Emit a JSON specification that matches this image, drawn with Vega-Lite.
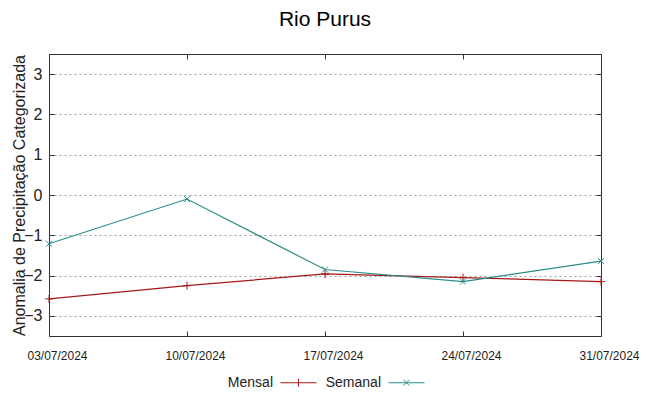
{
  "$schema": "https://vega.github.io/schema/vega-lite/v6.json",
  "width": 552,
  "height": 282,
  "autosize": {"type": "none"},
  "padding": {"left": 49, "top": 54, "right": 48, "bottom": 60},
  "background": "white",
  "config": {
    "font": "Liberation Sans",
    "view": {"stroke": "#333333", "strokeWidth": 1}
  },
  "title": {
    "text": "Rio Purus",
    "fontSize": 21,
    "fontWeight": "normal",
    "color": "#000000",
    "frame": "group",
    "anchor": "middle",
    "baseline": "alphabetic",
    "offset": 7
  },
  "data": {
    "values": [
      {"date": "03/07/2024", "series": "Mensal", "value": -2.58},
      {"date": "10/07/2024", "series": "Mensal", "value": -2.25},
      {"date": "17/07/2024", "series": "Mensal", "value": -1.96},
      {"date": "24/07/2024", "series": "Mensal", "value": -2.05},
      {"date": "31/07/2024", "series": "Mensal", "value": -2.15},
      {"date": "03/07/2024", "series": "Semanal", "value": -1.21},
      {"date": "10/07/2024", "series": "Semanal", "value": -0.1},
      {"date": "17/07/2024", "series": "Semanal", "value": -1.85},
      {"date": "24/07/2024", "series": "Semanal", "value": -2.15},
      {"date": "31/07/2024", "series": "Semanal", "value": -1.64}
    ]
  },
  "layer": [
    {
      "mark": {"type": "line", "strokeWidth": 1.2, "clip": false},
      "encoding": {
        "x": {
          "field": "date", "type": "ordinal", "sort": null,
          "scale": {"type": "point", "padding": 0},
          "axis": {
            "title": null, "labelAngle": 0, "labelFontSize": 12, "labelColor": "#222222",
            "labelPadding": 19, "labelOffset": 8, "tickSize": -5, "tickColor": "#333333", "domain": false, "grid": false
          }
        },
        "y": {
          "field": "value", "type": "quantitative",
          "scale": {"domain": [-3.5, 3.5], "nice": false, "zero": false},
          "axis": {
            "values": [-3, -2, -1, 0, 1, 2, 3],
            "title": "Anomalia de Precipitação Categorizada",
            "titleFontSize": 16, "titleFontWeight": "normal", "titleColor": "#222222", "titlePadding": -4,
            "labelFontSize": 16, "labelColor": "#222222", "labelPadding": 12,
            "tickSize": -5, "tickColor": "#333333", "domain": false,
            "grid": true, "gridColor": "#a0a0a0", "gridDash": [2, 3], "gridWidth": 1
          }
        },
        "color": {
          "field": "series", "type": "nominal",
          "scale": {"domain": ["Mensal", "Semanal"], "range": ["#a31818", "#2b8c8c"]},
          "legend": {
            "title": null,
            "orient": "none",
            "direction": "horizontal",
            "legendX": 231,
            "legendY": 310,
            "labelFontSize": 14,
            "labelColor": "#222222",
            "symbolSize": 1296,
            "symbolStrokeWidth": 1,
            "labelAlign": "right",
            "labelOffset": -44,
            "columnPadding": 6,
            "encode": {
              "symbols": {
                "update": {
                  "shape": {"signal": "datum.value === 'Mensal' ? 'M-1,0H1M0,-0.22V0.22' : 'M-1,0H1M-0.16,-0.16L0.16,0.16M-0.16,0.16L0.16,-0.16'"},
                  "fill": {"value": "transparent"},
                  "strokeWidth": {"value": 1}
                }
              }
            }
          }
        }
      }
    },
    {
      "mark": {"type": "point", "filled": false, "size": 64, "strokeWidth": 1, "opacity": 1},
      "encoding": {
        "x": {"field": "date", "type": "ordinal", "sort": null, "scale": {"type": "point", "padding": 0}, "axis": null},
        "y": {"field": "value", "type": "quantitative", "scale": {"domain": [-3.5, 3.5], "nice": false, "zero": false}, "axis": null},
        "color": {"field": "series", "type": "nominal", "scale": {"domain": ["Mensal", "Semanal"], "range": ["#a31818", "#2b8c8c"]}, "legend": null},
        "shape": {
          "field": "series", "type": "nominal",
          "scale": {"domain": ["Mensal", "Semanal"], "range": ["M-1,0H1M0,-1V1", "M-0.75,-0.75L0.75,0.75M-0.75,0.75L0.75,-0.75"]},
          "legend": null
        }
      }
    },
    {
      "mark": {"type": "point", "opacity": 0},
      "encoding": {
        "x": {
          "field": "date", "type": "ordinal", "sort": null,
          "scale": {"type": "point", "padding": 0},
          "axis": {"orient": "top", "labels": false, "title": null, "tickSize": -5, "tickColor": "#333333", "domain": false, "grid": false}
        },
        "y": {
          "field": "value", "type": "quantitative",
          "scale": {"domain": [-3.5, 3.5], "nice": false, "zero": false},
          "axis": {"orient": "right", "values": [-3, -2, -1, 0, 1, 2, 3], "labels": false, "title": null, "tickSize": -5, "tickColor": "#333333", "domain": false, "grid": false}
        }
      }
    }
  ],
  "resolve": {"axis": {"x": "independent", "y": "independent"}, "scale": {"color": "independent", "shape": "independent"}}
}
